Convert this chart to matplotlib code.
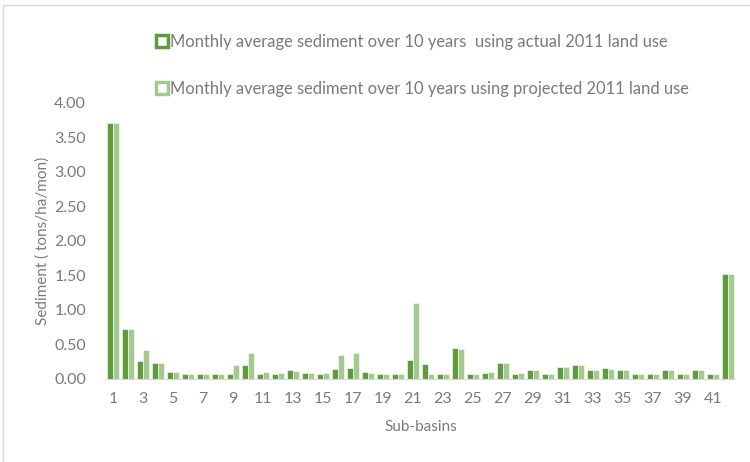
import matplotlib.pyplot as plt
import numpy as np
from matplotlib.lines import Line2D
from matplotlib.patches import Rectangle

plt.rcParams['font.family'] = ['Lato', 'DejaVu Sans']

# sub-basin numbers 1..42
basins = list(range(1, 43))

# sediment (tons/ha/mon), actual 2011 land use
actual = [3.71, 0.72, 0.26, 0.23, 0.10, 0.06, 0.06, 0.07, 0.07, 0.20,
          0.07, 0.06, 0.12, 0.08, 0.07, 0.14, 0.15, 0.10, 0.06, 0.06,
          0.27, 0.21, 0.06, 0.44, 0.06, 0.08, 0.22, 0.07, 0.12, 0.06,
          0.17, 0.19, 0.13, 0.15, 0.13, 0.06, 0.06, 0.12, 0.06, 0.12,
          0.06, 1.51]
# sediment (tons/ha/mon), projected 2011 land use
projected = [3.71, 0.72, 0.41, 0.23, 0.10, 0.06, 0.06, 0.06, 0.19, 0.37,
             0.10, 0.08, 0.11, 0.08, 0.08, 0.34, 0.37, 0.08, 0.06, 0.06,
             1.09, 0.07, 0.06, 0.43, 0.06, 0.09, 0.22, 0.08, 0.12, 0.06,
             0.17, 0.19, 0.13, 0.14, 0.13, 0.06, 0.06, 0.12, 0.06, 0.12,
             0.06, 1.51]

labels = ['Monthly average sediment over 10 years  using actual 2011 land use',
          'Monthly average sediment over 10 years using projected 2011 land use']

dark = '#5f9b3a'
light = '#a4c98f'
txt = '#7a7a7a'

fig = plt.figure(figsize=(7.5, 4.62), dpi=100)
ax = fig.add_axes([105.5 / 750, 83.5 / 462, 630 / 750, 275.5 / 462])

x = np.array(basins)
w = 0.4
ax.bar(x - w / 2, actual, w, color=dark, edgecolor='white', linewidth=0.4)
ax.bar(x + w / 2, projected, w, color=light, edgecolor='white', linewidth=0.4)

ax.set_xlim(0.5, 42.5)
ax.set_ylim(0, 4)
ax.set_yticks(np.arange(0, 4.01, 0.5))
ax.set_yticklabels([f'{v:.2f}' for v in np.arange(0, 4.01, 0.5)])
ax.set_xticks(basins[::2])
ax.set_xticklabels([str(b) for b in basins[::2]])
ax.tick_params(length=0, labelsize=11.5, colors=txt)
ax.tick_params(axis='y', pad=14)
ax.tick_params(axis='x', pad=10)

for s in ['top', 'right', 'left']:
    ax.spines[s].set_visible(False)
ax.spines['bottom'].set_color('#d9d9d9')

ax.set_ylabel('Sediment ( tons/ha/mon)', fontsize=11, color=txt, labelpad=3)
ax.set_xlabel('Sub-basins', fontsize=11, color=txt, labelpad=10)

handles = [Line2D([], [], ls='none', marker='s', markersize=8, mfc='white', mec=c, mew=2.5)
           for c in (dark, light)]
fig.legend(handles, labels, loc='upper left', bbox_to_anchor=(149 / 750, 1 - 26 / 462),
           frameon=False, fontsize=11.9, labelcolor=txt, labelspacing=1.85,
           handlelength=0.6, handletextpad=0.2, borderpad=0)

# chart area border
fig.patches.append(Rectangle((3 / 750, -0.1), 1.2, 1 - 5 / 462 + 0.1, transform=fig.transFigure,
                             fill=False, edgecolor='#d9d9d9', linewidth=1))

fig.savefig('out.png', dpi=100)
